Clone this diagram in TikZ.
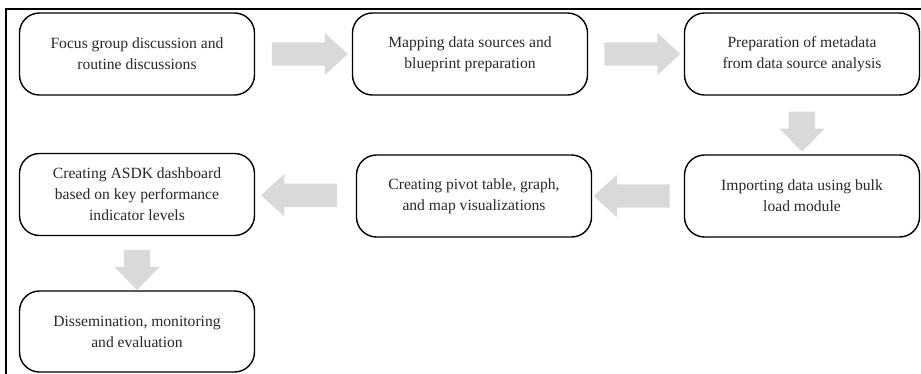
\documentclass[tikz,border=0pt]{standalone}
\usepackage{fontspec}
\setmainfont{Liberation Serif}
\usetikzlibrary{shapes.arrows,calc}
\definecolor{arrowgray}{RGB}{217,217,217}
\definecolor{textgray}{RGB}{40,40,40}
\tikzset{
  stepbox/.style={draw=black, line width=1.4pt, rounded corners=20pt, fill=white,
    minimum width=235pt, minimum height=82pt, align=center, text=textgray,
    font=\fontsize{15.6}{21}\selectfont, inner sep=0pt},
  flowarrow/.style={single arrow, fill=arrowgray, draw=none, inner sep=11.5pt,
    minimum height=76pt, single arrow head extend=9.5pt, single arrow tip angle=85},
  droparrow/.style={single arrow, fill=arrowgray, draw=none, inner sep=13pt,
    minimum height=40pt, single arrow head extend=9.5pt, single arrow tip angle=89,
    rotate=-90}
}
\begin{document}
\begin{tikzpicture}[x=1pt, y=-1pt]
  \clip (0,0) rectangle (921,373);
  % outer frame, running past the right and bottom edges
  \draw[line width=1.5pt] (6,9) rectangle (940,390);

  % process steps
  \node[stepbox] (b1) at (137,54)    {Focus group discussion and\\routine discussions};
  \node[stepbox] (b2) at (470,54)    {Mapping data sources and\\blueprint preparation};
  \node[stepbox] (b3) at (802,54)    {Preparation of metadata\\from data source analysis};
  \node[stepbox] (b4) at (802,196)   {Importing data using bulk\\load module};
  \node[stepbox] (b5) at (474,196)   {Creating pivot table, graph,\\and map visualizations};
  \node[stepbox] (b6) at (137,194.5) {Creating ASDK dashboard\\based on key performance\\indicator levels};
  \node[stepbox, minimum height=81pt] (b7) at (137,331.5) {Dissemination, monitoring\\and evaluation};

  % block arrows between the steps
  \node[flowarrow] (a12) at ($(b1.east)!0.5!(b2.west)$) {};
  \node[flowarrow] (a23) at ($(b2.east)!0.5!(b3.west)$) {};
  \node[droparrow] (a34) at ($(b3.south)!0.5!(b4.north)$) {};
  \node[flowarrow, rotate=180] (a45) at ($(b4.west)!0.5!(b5.east)$) {};
  \node[flowarrow, rotate=180] (a56) at ($(b5.west)!0.5!(b6.east)$) {};
  \node[droparrow] (a67) at ($(b6.south)!0.5!(b7.north)$) {};
\end{tikzpicture}
\end{document}
